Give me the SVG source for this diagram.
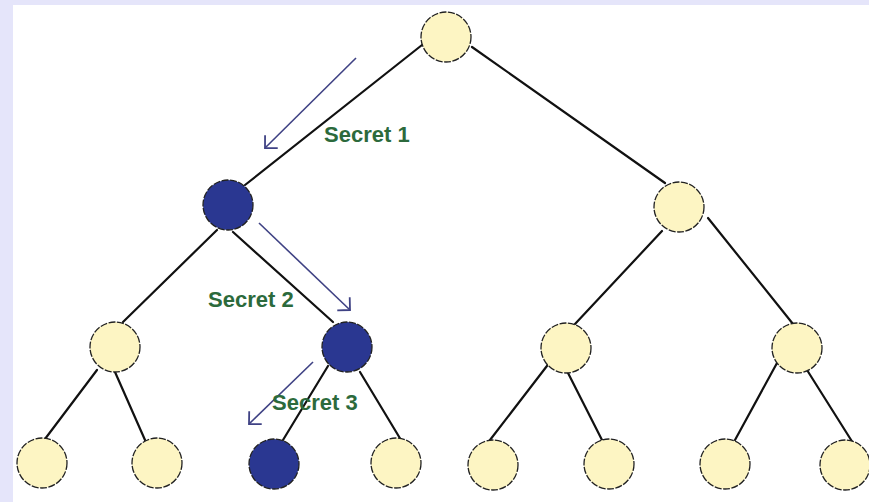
<svg xmlns="http://www.w3.org/2000/svg" width="869" height="502" viewBox="0 0 869 502">
  <style>
    .edge { stroke: #111; stroke-width: 2.2; fill: none; stroke-linecap: round; }
    .hint { stroke: #3f4284; stroke-width: 1.6; fill: none; }
    .node { stroke: #222; stroke-width: 1.3; stroke-dasharray: 7 1.5; }
    .plain { fill: #fdf5c3; }
    .secret { fill: #2a3791; }
    .label { font-family: "Liberation Sans", Arial, sans-serif; font-weight: bold; font-size: 22px; fill: #2c6a3c; }
  </style>
  <defs>
    <marker id="open-arrow" markerUnits="userSpaceOnUse" markerWidth="20" markerHeight="20" refX="0" refY="0" viewBox="-12 -10 14 20" orient="auto">
      <path d="M -9 -9 L 0 0 L -9 9" stroke="#3f4284" stroke-width="1.8" fill="none"/>
    </marker>
  </defs>

  <!-- page frame -->
  <rect x="0" y="0" width="869" height="502" fill="#ffffff"/>
  <rect x="0" y="0" width="869" height="5" fill="#e5e5fa"/>
  <rect x="0" y="0" width="13" height="502" fill="#e5e5fa"/>

  <!-- tree edges -->
  <g id="edges">
    <line class="edge" x1="422" y1="45" x2="245" y2="185"/>
    <line class="edge" x1="472" y1="47" x2="665" y2="183"/>
    <line class="edge" x1="217" y1="230" x2="123" y2="322"/>
    <line class="edge" x1="233" y1="232" x2="333" y2="322"/>
    <line class="edge" x1="662" y1="231" x2="575" y2="324"/>
    <line class="edge" x1="708" y1="218" x2="793" y2="324"/>
    <line class="edge" x1="97" y1="370" x2="45" y2="439"/>
    <line class="edge" x1="115" y1="372" x2="145" y2="440"/>
    <line class="edge" x1="328" y1="366" x2="283" y2="440"/>
    <line class="edge" x1="360" y1="372" x2="401" y2="440"/>
    <line class="edge" x1="550" y1="362" x2="490" y2="440"/>
    <line class="edge" x1="566" y1="369" x2="602" y2="440"/>
    <line class="edge" x1="777" y1="363" x2="735" y2="440"/>
    <line class="edge" x1="807" y1="370" x2="853" y2="443"/>
  </g>

  <!-- path hints -->
  <g id="hints">
    <line class="hint" x1="356" y1="58" x2="265" y2="148" marker-end="url(#open-arrow)"/>
    <line class="hint" x1="259" y1="223" x2="350" y2="310" marker-end="url(#open-arrow)"/>
    <line class="hint" x1="313" y1="362" x2="249" y2="424" marker-end="url(#open-arrow)"/>
  </g>

  <!-- nodes -->
  <g id="n-root"><circle class="node plain" cx="446" cy="37" r="25"/></g>
  <g id="n-l"><circle class="node secret" cx="228" cy="205" r="25"/></g>
  <g id="n-r"><circle class="node plain" cx="679" cy="207" r="25"/></g>
  <g id="n-ll"><circle class="node plain" cx="115" cy="347" r="25"/></g>
  <g id="n-lr"><circle class="node secret" cx="347" cy="347" r="25"/></g>
  <g id="n-rl"><circle class="node plain" cx="566" cy="348" r="25"/></g>
  <g id="n-rr"><circle class="node plain" cx="797" cy="348" r="25"/></g>
  <g id="n-lll"><circle class="node plain" cx="42" cy="463" r="25"/></g>
  <g id="n-llr"><circle class="node plain" cx="157" cy="463" r="25"/></g>
  <g id="n-lrl"><circle class="node secret" cx="274" cy="464" r="25"/></g>
  <g id="n-lrr"><circle class="node plain" cx="396" cy="463" r="25"/></g>
  <g id="n-rll"><circle class="node plain" cx="493" cy="465" r="25"/></g>
  <g id="n-rlr"><circle class="node plain" cx="609" cy="464" r="25"/></g>
  <g id="n-rrl"><circle class="node plain" cx="725" cy="464" r="25"/></g>
  <g id="n-rrr"><circle class="node plain" cx="845" cy="465" r="25"/></g>

  <!-- labels -->
  <g id="labels">
    <text class="label" x="324" y="142">Secret 1</text>
    <text class="label" x="208" y="307">Secret 2</text>
    <text class="label" x="272" y="410">Secret 3</text>
  </g>
</svg>
